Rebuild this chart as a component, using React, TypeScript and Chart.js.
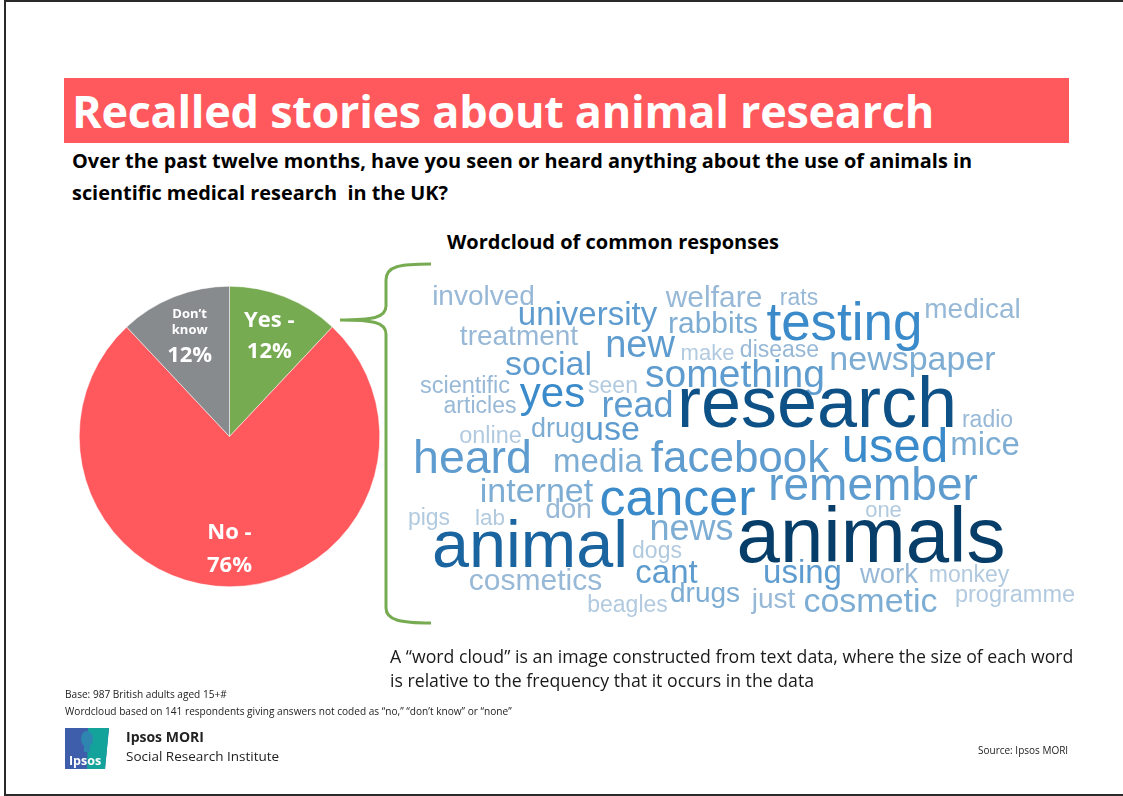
import React, { useEffect, useRef } from "react";
import { Chart, registerables } from "chart.js";
Chart.register(...registerables);

// ---------- Pie data ----------
const pieLabels = ["Yes", "No", "Don’t know"];
const pieValues = [12, 76, 12];
const pieColors = ["#77AB51", "#FF595E", "#888B8E"];

// ---------- Word cloud data ----------
const words = [
  "involved", "university", "treatment", "welfare", "rabbits", "new", "make", "disease", "rats", "testing",
  "medical", "newspaper", "something", "social", "scientific", "seen", "yes", "articles", "read", "research",
  "radio", "online", "drug", "use", "heard", "media", "facebook", "used", "mice", "internet",
  "cancer", "remember", "don", "pigs", "lab", "one", "animal", "news", "animals", "dogs",
  "cosmetics", "cant", "drugs", "beagles", "using", "work", "monkey", "just", "cosmetic", "programme",
];
// relative frequency (rendered as font size)
const wordFreq = [
  28, 33, 28, 30, 30, 38, 22, 23, 23, 53,
  28, 34, 39, 34, 23.5, 23, 42, 23, 36, 72,
  23, 23.5, 27, 34, 46.5, 33, 44, 49, 33, 34,
  52, 46, 28, 23, 22.5, 22, 66.5, 36, 78, 23,
  30, 33, 28, 23, 33, 27.5, 23, 28, 34, 23.5,
];
// layout of the cloud (x = word centre, y = baseline)
const wordX = [
  483.5, 587.5, 519, 714, 713, 640, 707.5, 779.5, 799, 844.5,
  972.5, 912.5, 735, 548.5, 465, 613, 552.5, 480, 637.5, 817,
  987.5, 490.5, 558, 612.5, 472.5, 598, 740, 895, 985, 536.5,
  677.5, 873, 568.5, 429, 490, 883.5, 530, 691.5, 871, 657,
  535.5, 666.5, 705, 627.5, 802.5, 889, 969, 773.5, 870.5, 1015,
];
const wordY = [
  305, 325, 345, 307, 333, 357, 360, 357, 305, 340,
  318, 370, 387, 375, 393, 393, 407, 413, 417, 427,
  427, 443, 437, 440, 473, 472, 472, 462, 455, 502,
  515, 500, 518, 525, 525, 517, 567, 540, 562, 558,
  590, 583, 602, 612, 583, 583, 582, 608, 612, 602,
];
const wordShade = [
  1, 3, 1, 1, 2, 3, 0, 1, 1, 4,
  1, 2, 3, 3, 1, 0, 4, 1, 3, 6,
  1, 0, 2, 3, 3, 2, 3, 4, 2, 2,
  4, 3, 1, 0, 0, 0, 5, 2, 7, 0,
  1, 3, 2, 0, 3, 1, 0, 1, 2, 0,
];
const shadePalette = ["#B2CADF", "#97B8D6", "#7EADD4", "#5E9CCF", "#3B8BCB", "#1A64A0", "#0D5187", "#073E69"];

const PAGE_FONT = '"Open Sans", "Noto Sans", sans-serif';
const CLOUD_FONT = '"Liberation Sans", Arial, sans-serif';

const pieLabelPlugin = {
  id: "pieLabels",
  afterDatasetsDraw(chart: any) {
    const ctx = chart.ctx;
    const meta = chart.getDatasetMeta(0);
    const layouts = [
      [
        { t: "Yes -", s: 22, dy: -15.5 },
        { t: pieValues[0] + "%", s: 22, dy: 15.5 },
      ],
      [
        { t: "No -", s: 22, dy: -16 },
        { t: pieValues[1] + "%", s: 22, dy: 17 },
      ],
      [
        { t: "Don’t", s: 13, dy: -22 },
        { t: "know", s: 13, dy: -6 },
        { t: pieValues[2] + "%", s: 22, dy: 20 },
      ],
    ];
    meta.data.forEach((arc: any, i: number) => {
      const p = arc.getProps(["x", "y", "startAngle", "endAngle", "outerRadius"], true);
      const mid = (p.startAngle + p.endAngle) / 2;
      const r = p.outerRadius * (i === 1 ? 0.75 : 0.72);
      const cx = p.x + Math.cos(mid) * r;
      const cy = p.y + Math.sin(mid) * r;
      ctx.save();
      ctx.fillStyle = "#ffffff";
      ctx.textAlign = "center";
      ctx.textBaseline = "middle";
      layouts[i].forEach((l) => {
        ctx.font = `bold ${l.s}px ${PAGE_FONT}`;
        ctx.fillText(l.t, cx, cy + l.dy);
      });
      ctx.restore();
    });
  },
};

const cloudPlugin = {
  id: "cloudWords",
  afterDatasetsDraw(chart: any) {
    const ctx = chart.ctx;
    const meta = chart.getDatasetMeta(0);
    ctx.save();
    ctx.textAlign = "center";
    ctx.textBaseline = "alphabetic";
    meta.data.forEach((pt: any, i: number) => {
      ctx.font = `${wordFreq[i]}px ${CLOUD_FONT}`;
      ctx.fillStyle = shadePalette[wordShade[i]];
      ctx.fillText(words[i], pt.x, pt.y);
    });
    ctx.restore();
  },
};

function PieChart() {
  const ref = useRef<HTMLCanvasElement>(null);
  useEffect(() => {
    const chart = new Chart(ref.current!, {
      type: "pie",
      data: {
        labels: pieLabels,
        datasets: [
          {
            data: pieValues,
            backgroundColor: pieColors,
            borderColor: "#ffffff",
            borderWidth: 0.5,
          },
        ],
      },
      options: {
        responsive: false,
        animation: false,
        events: [],
        layout: { padding: 0 },
        plugins: { legend: { display: false }, tooltip: { enabled: false } },
      },
      plugins: [pieLabelPlugin],
    });
    return () => chart.destroy();
  }, []);
  return (
    <canvas
      ref={ref}
      width={301}
      height={301}
      style={{ position: "absolute", left: 79, top: 286, width: 301, height: 301 }}
    />
  );
}

function WordCloud() {
  const ref = useRef<HTMLCanvasElement>(null);
  useEffect(() => {
    const chart = new Chart(ref.current!, {
      type: "scatter",
      data: {
        datasets: [
          {
            data: words.map((_, i) => ({ x: wordX[i], y: wordY[i] })),
            pointRadius: 0,
            showLine: false,
          },
        ],
      },
      options: {
        responsive: false,
        animation: false,
        events: [],
        layout: { padding: 0 },
        scales: {
          x: { type: "linear", min: 380, max: 1100, display: false },
          y: { type: "linear", min: 260, max: 640, reverse: true, display: false },
        },
        plugins: { legend: { display: false }, tooltip: { enabled: false } },
      },
      plugins: [cloudPlugin],
    });
    return () => chart.destroy();
  }, []);
  return (
    <canvas
      ref={ref}
      width={720}
      height={380}
      style={{ position: "absolute", left: 380, top: 260, width: 720, height: 380 }}
    />
  );
}

const abs = (o: React.CSSProperties): React.CSSProperties => ({ position: "absolute", whiteSpace: "nowrap", ...o });

export default function App() {
  return (
    <div style={{ position: "fixed", left: 0, top: 0, width: 1123, height: 796, overflow: "hidden", background: "#fff", fontFamily: PAGE_FONT }}>
      {/* slide frame */}
      <div style={{ position: "absolute", left: 4, top: 0, width: 1140, height: 796, boxSizing: "border-box", border: "2px solid #2a2a2a" }} />

      {/* banner */}
      <div style={{ position: "absolute", left: 64, top: 78, width: 1005, height: 65, background: "#FF595E" }} />
      <div style={abs({ left: 72, top: 78, height: 65, lineHeight: "65px", fontSize: 45, letterSpacing: -0.3, fontWeight: 700, color: "#fff" })}>
        Recalled stories about animal research
      </div>

      {/* question */}
      <div style={abs({ left: 72, top: 145, fontSize: 19.9, lineHeight: "32px", fontWeight: 700, color: "#000" })}>
        Over the past twelve months, have you seen or heard anything about the use of animals in
        <br />
        scientific medical research&nbsp; in the UK?
      </div>

      {/* word cloud heading */}
      <div style={abs({ left: 447, top: 228, fontSize: 20, lineHeight: "28px", fontWeight: 700, color: "#000" })}>
        Wordcloud of common responses
      </div>

      <PieChart />

      {/* brace */}
      <svg width={1123} height={796} style={{ position: "absolute", left: 0, top: 0 }}>
        <path
          d="M431,264 C400,264 386,266 386,280 L386,306 C386,318 372,320 340,320 C372,320 386,322 386,334 L386,608 C386,620 400,623 431,623"
          fill="none"
          stroke="#77AB51"
          strokeWidth={3}
        />
      </svg>

      <WordCloud />

      {/* explanation */}
      <div style={abs({ left: 390, top: 644, fontSize: 17.7, lineHeight: "24px", color: "#1a1a1a" })}>
        A “word cloud” is an image constructed from text data, where the size of each word
        <br />
        is relative to the frequency that it occurs in the data
      </div>

      {/* footnotes */}
      <div style={abs({ left: 65, top: 686, fontSize: 10.1, lineHeight: "17px", color: "#222" })}>
        Base: 987 British adults aged 15+#
        <br />
        Wordcloud based on 141 respondents giving answers not coded as “no,” “don’t know” or “none”
      </div>

      {/* logo */}
      <svg width={46} height={42} style={{ position: "absolute", left: 65, top: 728 }}>
        <polygon points="0,0 44,0 40,41 0,41" fill="#3E5DAA" />
        <polygon points="23,0 44,0 40,41 22,41" fill="#14A39B" />
        <ellipse cx={22} cy={11} rx={6} ry={8} fill="#2E86B0" />
        <rect x={19} y={16} width={6} height={8} fill="#2E86B0" />
        <text x={20} y={37} fontSize={12.5} fontWeight={700} fill="#fff" textAnchor="middle" fontFamily={PAGE_FONT}>
          Ipsos
        </text>
      </svg>
      <div style={abs({ left: 126, top: 727, fontSize: 14, lineHeight: "20px", fontWeight: 700, color: "#222" })}>Ipsos MORI</div>
      <div style={abs({ left: 126, top: 746, fontSize: 13.5, lineHeight: "20px", color: "#222" })}>Social Research Institute</div>

      <div style={abs({ left: 978, top: 742, fontSize: 10, lineHeight: "16px", color: "#222" })}>Source: Ipsos MORI</div>
    </div>
  );
}
